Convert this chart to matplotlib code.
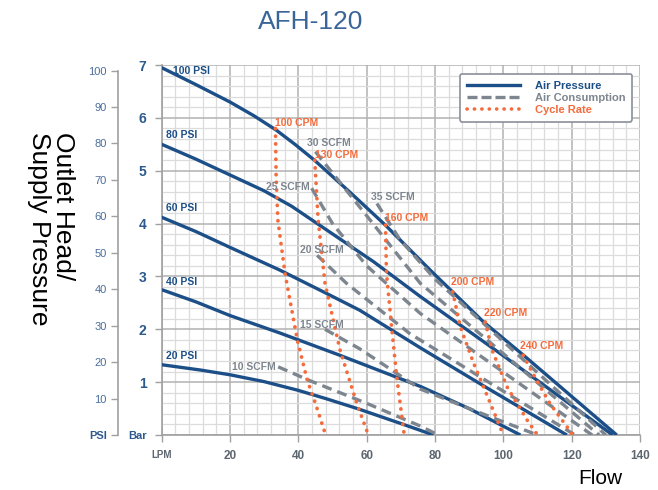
import matplotlib
matplotlib.use("Agg")
import matplotlib.pyplot as plt
from matplotlib.lines import Line2D
from matplotlib.ticker import MultipleLocator

plt.rcParams['font.family'] = ['Liberation Sans', 'DejaVu Sans']

# air pressure curves (LPM, bar)
psi100_x = [0, 10, 20, 27, 33.5, 39, 44.7, 55, 65.5, 78.6, 94.2, 105.9, 133.2]
psi100_y = [6.95, 6.63, 6.3, 6.04, 5.77, 5.5, 5.2, 4.6, 3.97, 3.12, 2.14, 1.51, 0]
psi80_x = [0, 10, 20, 30, 38, 46, 62, 75.7, 100, 132]
psi80_y = [5.5, 5.22, 4.92, 4.62, 4.33, 3.98, 3.28, 2.62, 1.5, 0]
psi60_x = [0, 10, 20, 34.6, 47.3, 58, 75.7, 95, 118.6]
psi60_y = [4.12, 3.85, 3.55, 3.12, 2.71, 2.36, 1.65, 0.9, 0]
psi40_x = [0, 10, 20, 34.6, 52.1, 75.7, 90, 105]
psi40_y = [2.75, 2.52, 2.26, 1.93, 1.51, 0.92, 0.5, 0]
psi20_x = [0, 11.3, 20, 30, 39.7, 48, 57.3, 69.9, 79.6]
psi20_y = [1.33, 1.23, 1.14, 1.01, 0.85, 0.69, 0.5, 0.22, 0]

# air consumption (SCFM)
scfm10_x = [34.1, 43.3, 60, 75.7, 81]
scfm10_y = [1.29, 1.03, 0.6, 0.17, 0]
scfm15_x = [47.8, 58, 75.7, 90, 110]
scfm15_y = [2.0, 1.63, 0.87, 0.5, 0]
scfm20_x = [45.5, 54.1, 72.6, 100, 121]
scfm20_y = [3.4, 2.87, 1.92, 0.83, 0]
scfm25_x = [43.9, 50, 60, 75.7, 100, 126]
scfm25_y = [4.67, 4.0, 3.2, 2.3, 1.19, 0]
scfm30_x = [45, 60, 75.7, 100, 128]
scfm30_y = [5.36, 4.15, 2.87, 1.54, 0]
scfm35_x = [63, 69.7, 80, 100, 130]
scfm35_y = [4.38, 3.7, 2.95, 1.77, 0]

# cycle rate (CPM)
cpm100_x = [33.3, 33.5, 34, 36.1, 39.7, 42.6, 45, 48]
cpm100_y = [5.8, 4.89, 4.07, 3.06, 1.8, 1.04, 0.6, 0]
cpm130_x = [44.8, 45.8, 47.8, 52.2, 57.1, 60.5]
cpm130_y = [5.2, 4.07, 2.87, 1.61, 0.6, 0]
cpm160_x = [65.5, 65.8, 67.3, 68.8, 71]
cpm160_y = [3.97, 3.06, 2.05, 1.1, 0]
cpm200_x = [85.2, 87.4, 91.3, 96.2, 100]
cpm200_y = [2.71, 2.05, 1.36, 0.6, 0]
cpm220_x = [94.7, 96.7, 101.1, 107, 110]
cpm220_y = [2.14, 1.61, 0.91, 0.28, 0]
cpm240_x = [105.8, 109.2, 113.6, 120.4]
cpm240_y = [1.51, 1.1, 0.6, 0]

psi_labels = ["100 PSI", "80 PSI", "60 PSI", "40 PSI", "20 PSI"]
scfm_labels = ["10 SCFM", "15 SCFM", "20 SCFM", "25 SCFM", "30 SCFM", "35 SCFM"]
cpm_labels = ["100 CPM", "130 CPM", "160 CPM", "200 CPM", "220 CPM", "240 CPM"]

x_ticks = [0, 20, 40, 60, 80, 100, 120, 140]
x_ticklabels = ["LPM", "20", "40", "60", "80", "100", "120", "140"]
bar_ticks = [0, 1, 2, 3, 4, 5, 6, 7]
bar_ticklabels = ["Bar", "1", "2", "3", "4", "5", "6", "7"]
psi_ticks = [0, 10, 20, 30, 40, 50, 60, 70, 80, 90, 100]
psi_ticklabels = ["PSI", "10", "20", "30", "40", "50", "60", "70", "80", "90", "100"]

BLUE = '#1c4f88'
GRAY = '#7d858e'
ORANGE = '#f46b3c'
DOTS = (0, (0.05, 2.0))

fig = plt.figure(figsize=(6.58, 4.9), dpi=100)
ax = fig.add_axes([0.2457, 0.1122, 0.7269, 0.7551])

ax.set_xlim(0, 140)
ax.set_ylim(0, 7)
ax.xaxis.set_minor_locator(MultipleLocator(4))
ax.yaxis.set_minor_locator(MultipleLocator(0.2))
ax.grid(which='minor', color='#dcdcdc', lw=0.9, zorder=0)
ax.grid(which='major', color='#b2b2b2', lw=1.1, zorder=0)
ax.set_axisbelow(True)
for s in ['top', 'right']:
    ax.spines[s].set_visible(False)
for s in ['left', 'bottom']:
    ax.spines[s].set_color('#a0a0a0')
    ax.spines[s].set_linewidth(1.2)
ax.tick_params(which='minor', length=0)
ax.tick_params(axis='both', which='major', color='#a0a0a0', length=5, width=1)

ax.set_xticks(x_ticks)
ax.set_xticklabels(x_ticklabels, fontsize=8.5, fontweight='bold', color='#5d6670')
ax.set_yticks(bar_ticks)
ax.set_yticklabels(bar_ticklabels, fontsize=10, fontweight='bold', color='#2d5a8e')
ax.tick_params(axis='x', pad=6)
ax.tick_params(axis='y', pad=6)
ax.get_xticklabels()[0].set_fontsize(7)
ax.get_yticklabels()[0].set_fontsize(8)

lw = 2.4
for x, y in [(psi100_x, psi100_y), (psi80_x, psi80_y), (psi60_x, psi60_y),
             (psi40_x, psi40_y), (psi20_x, psi20_y)]:
    ax.plot(x, y, color=BLUE, lw=lw, solid_capstyle='butt',
            solid_joinstyle='round', zorder=3)
for x, y in [(scfm10_x, scfm10_y), (scfm15_x, scfm15_y), (scfm20_x, scfm20_y),
             (scfm25_x, scfm25_y), (scfm30_x, scfm30_y), (scfm35_x, scfm35_y)]:
    ax.plot(x, y, color=GRAY, lw=lw, ls=(0, (3, 1.8)), zorder=4)
for x, y in [(cpm100_x, cpm100_y), (cpm130_x, cpm130_y), (cpm160_x, cpm160_y),
             (cpm200_x, cpm200_y), (cpm220_x, cpm220_y), (cpm240_x, cpm240_y)]:
    ax.plot(x, y, color=ORANGE, lw=2.7, ls=DOTS, dash_capstyle='round', zorder=5)

# line labels
psi_pos = [(3.4, 6.89), (1.4, 5.68), (1.4, 4.29), (1.4, 2.9), (1.4, 1.49)]
for t, (x, y) in zip(psi_labels, psi_pos):
    ax.text(x, y, t, color=BLUE, fontsize=7.5, fontweight='bold', va='center', zorder=6)
scfm_pos = [(20.6, 1.29), (40.5, 2.08), (40.5, 3.5), (30.6, 4.69), (42.6, 5.52), (61.4, 4.5)]
for t, (x, y) in zip(scfm_labels, scfm_pos):
    ax.text(x, y, t, color=GRAY, fontsize=7.5, fontweight='bold', va='center', zorder=6)
cpm_pos = [(33.1, 5.9), (44.9, 5.3), (65.4, 4.1), (84.7, 2.89), (94.4, 2.3), (104.9, 1.69)]
for t, (x, y) in zip(cpm_labels, cpm_pos):
    ax.text(x, y, t, color=ORANGE, fontsize=7.5, fontweight='bold', va='center', zorder=6)

# legend
handles = [Line2D([], [], color=BLUE, lw=2.4),
           Line2D([], [], color=GRAY, lw=2.4, ls=(0, (3, 1.2))),
           Line2D([], [], color=ORANGE, lw=2.6, ls=DOTS, dash_capstyle='round')]
leg = ax.legend(handles, ["Air Pressure", "Air Consumption", "Cycle Rate"],
                loc='upper right', bbox_to_anchor=(0.99, 0.985),
                handlelength=4.8, handletextpad=1.3, labelspacing=0.2,
                borderpad=0.6, borderaxespad=0.3, fancybox=True, framealpha=1,
                edgecolor='#8a9099', prop={'weight': 'bold', 'size': 8})
leg.get_frame().set_linewidth(1.2)
for txt, c in zip(leg.get_texts(), [BLUE, GRAY, ORANGE]):
    txt.set_color(c)

# psi scale on the far left
pax = fig.add_axes([0.1793, 0.1122, 0.0001, 0.7551])
pax.set_ylim(0, 7 * 14.5038)
pax.set_xticks([])
for s in ['top', 'right', 'bottom']:
    pax.spines[s].set_visible(False)
pax.spines['left'].set_color('#a0a0a0')
pax.spines['left'].set_linewidth(1.2)
pax.spines['left'].set_bounds(0, 100)
pax.patch.set_visible(False)
pax.set_yticks(psi_ticks)
pax.set_yticklabels(psi_ticklabels, fontsize=8, color='#4a6d9c')
pax.tick_params(axis='y', color='#a0a0a0', length=5, width=1, pad=3)
pax.get_yticklabels()[0].set_fontweight('bold')
pax.get_yticklabels()[0].set_color('#2d5a8e')

fig.text(0.4727, 0.955, "AFH-120", fontsize=19, color='#3a6598', ha='center', va='center')
fig.text(0.913, 0.024, "Flow", fontsize=15, color='black', ha='center', va='center')
fig.text(0.078, 0.533, "Outlet Head/\nSupply Pressure", fontsize=19, color='black',
         rotation=-90, ha='center', va='center', multialignment='left', linespacing=1.0)

fig.savefig("out.png", dpi=100)
